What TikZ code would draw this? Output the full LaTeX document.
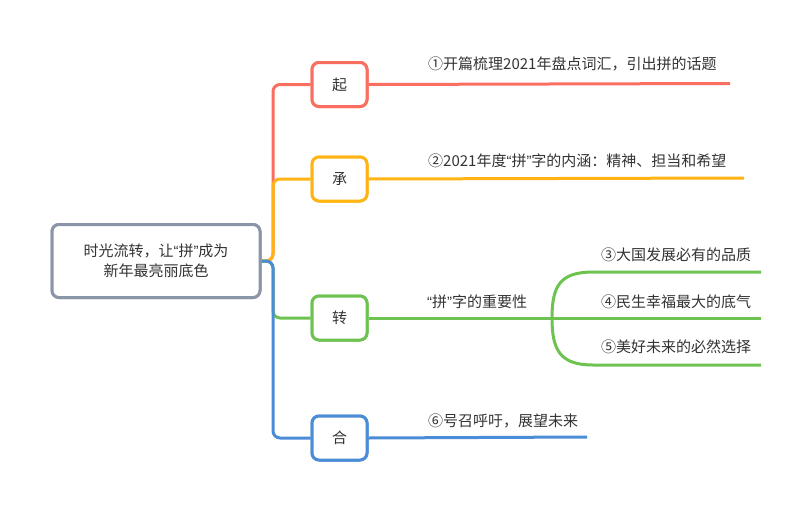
\documentclass[tikz,border=0pt]{standalone}
\usepackage{fontspec}
\setmainfont{Noto Sans CJK SC}
\newfontfamily\qf{Liberation Sans}
\newcommand{\myLQ}{{\qf “}}
\newcommand{\myRQ}{{\qf ”}}
\usetikzlibrary{calc}
\definecolor{cred}{RGB}{250,110,95}
\definecolor{corange}{RGB}{255,180,20}
\definecolor{cgreen}{RGB}{110,195,80}
\definecolor{cblue}{RGB}{75,140,215}
\definecolor{croot}{RGB}{138,149,168}
\definecolor{ctext}{RGB}{51,51,51}
\begin{document}
\begin{tikzpicture}[x=1pt,y=-1pt,
  every node/.style={font=\fontsize{15}{20}\selectfont, text=ctext},
  rootbox/.style={draw=croot, line width=3pt, rounded corners=7pt, fill=white, minimum width=208pt, minimum height=73pt, align=center, inner sep=0pt},
  branchbox/.style={line width=3pt, rounded corners=7pt, fill=white, minimum width=55pt, minimum height=44pt, inner sep=0pt},
  lbl/.style={anchor=west, inner sep=0pt},
  trunk/.style={line width=3pt, rounded corners=7pt},
  leaf/.style={line width=3pt}]
\useasboundingbox (0,0) rectangle (810,511);
% connector end points
\coordinate (sp) at (273,261);
\coordinate (e1) at (730,83.5);
\coordinate (e2) at (744,178);
\coordinate (e3) at (552,318);
\coordinate (e4) at (587,437);
\coordinate (g1) at (761,272);
\coordinate (g2) at (761,318);
\coordinate (g3) at (761,365);
% nodes
\node[rootbox] (root) at (156,261) {时光流转，让\myLQ 拼\myRQ 成为\\新年最亮丽底色};
\node[branchbox, draw=cred] (qi) at (339.5,84.5) {起};
\node[branchbox, draw=corange] (cheng) at (339.5,179) {承};
\node[branchbox, draw=cgreen] (zhuan) at (339.5,318) {转};
\node[branchbox, draw=cblue] (he) at (339.5,438) {合};
% connectors
\draw[trunk, cred] (root.east) -- (sp) |- (qi.west);
\draw[trunk, corange] (root.east) -- (sp) |- (cheng.west);
\draw[trunk, cgreen] (root.east) -- (sp) |- (zhuan.west);
\draw[trunk, cblue] (root.east) -- (sp) |- (he.west);
\draw[leaf, cred] (qi.east) -- (e1);
\draw[leaf, corange] (cheng.east) -- (e2);
\draw[leaf, cgreen] (zhuan.east) -- (e3) -- (g2);
\draw[leaf, cgreen] (e3) .. controls (552,286) and (560,272) .. (593,272) -- (g1);
\draw[leaf, cgreen] (e3) .. controls (552,350) and (560,365) .. (593,365) -- (g3);
\draw[leaf, cblue] (he.east) -- (e4);
% boxes on top of connector ends
\node[rootbox] at (root) {时光流转，让\myLQ 拼\myRQ 成为\\新年最亮丽底色};
\node[branchbox, draw=cred] at (qi) {起};
\node[branchbox, draw=corange] at (cheng) {承};
\node[branchbox, draw=cgreen] at (zhuan) {转};
\node[branchbox, draw=cblue] at (he) {合};
% labels
\node[lbl] (t1) at (428,64) {①开篇梳理2021年盘点词汇，引出拼的话题};
\node[lbl] (t2) at (428,161) {②2021年度\myLQ 拼\myRQ 字的内涵：精神、担当和希望};
\node[lbl] (t3) at (427,302) {\myLQ 拼\myRQ 字的重要性};
\node[lbl] (t4) at (601,255) {③大国发展必有的品质};
\node[lbl] (t5) at (601,302) {④民生幸福最大的底气};
\node[lbl] (t6) at (601,347) {⑤美好未来的必然选择};
\node[lbl] (t7) at (428,421) {⑥号召呼吁，展望未来};
\end{tikzpicture}
\end{document}
